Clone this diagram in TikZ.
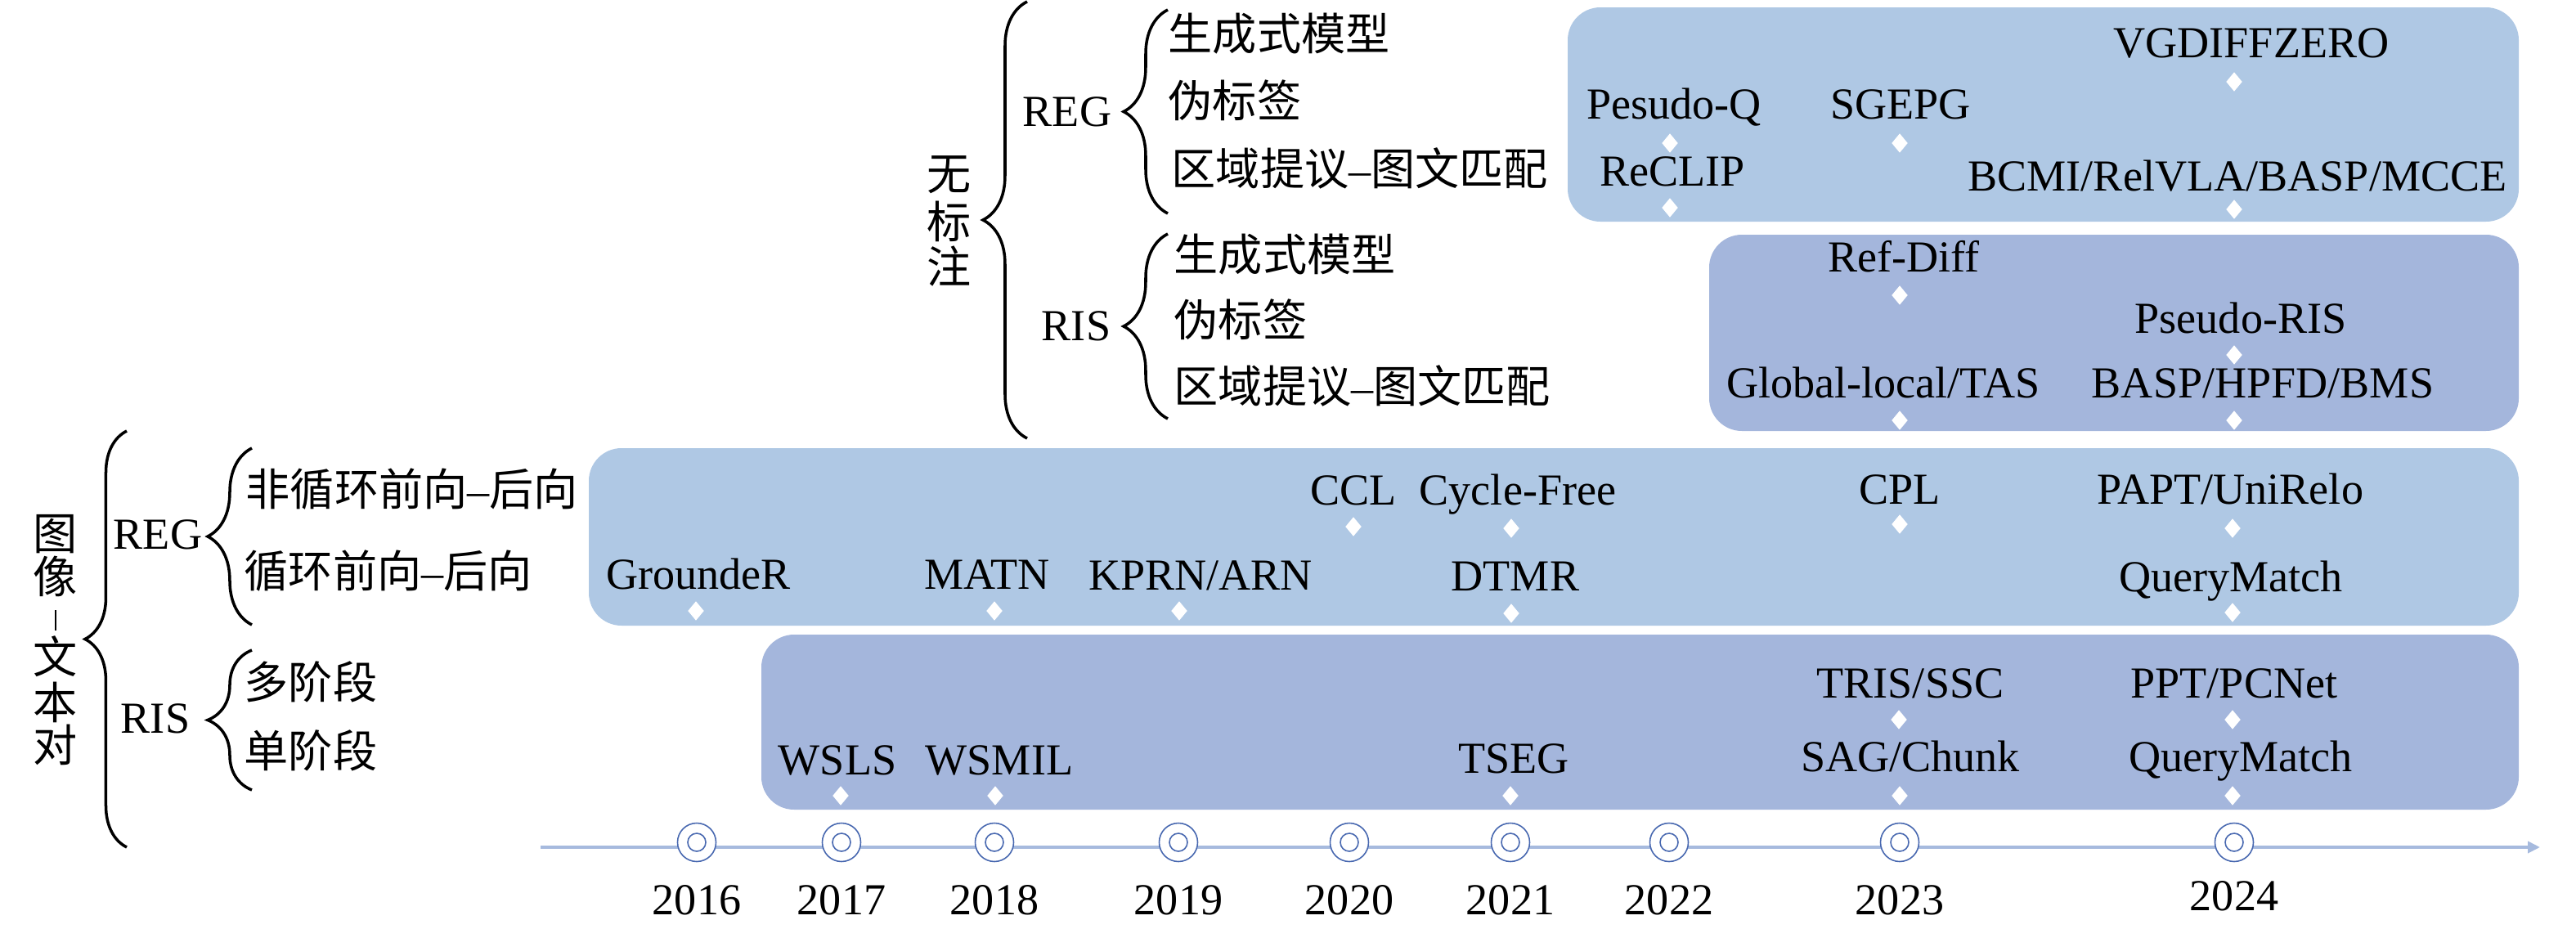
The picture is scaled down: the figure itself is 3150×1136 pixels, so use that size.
\documentclass[tikz,border=0pt]{standalone}
\usepackage{fontspec}
\setmainfont{Liberation Serif}
\newfontfamily\cjk{Noto Sans CJK SC}
\usetikzlibrary{shapes.geometric,decorations.pathreplacing,arrows.meta}
\definecolor{regbox}{RGB}{175,200,228}
\definecolor{risbox}{RGB}{164,182,220}
\definecolor{tline}{RGB}{166,186,222}
\definecolor{ring}{RGB}{72,104,176}
\begin{document}
\begin{tikzpicture}[x=0.01cm,y=-0.01cm,
  every node/.style={inner sep=0pt, font=\fontsize{15.4}{18}\selectfont},
  lbl/.style={anchor=base},
  cn/.style={anchor=base west, font=\fontsize{15.4}{18}\selectfont\cjk},
  vc/.style={anchor=center, font=\fontsize{15.4}{18}\selectfont\cjk},
  dm/.style={diamond, fill=white, draw=none, minimum width=0.2cm, minimum height=0.24cm},
  boxA/.style={fill=regbox, rounded corners=0.4cm},
  boxB/.style={fill=risbox, rounded corners=0.4cm},
  brc/.style={decorate, decoration={brace, amplitude=#1}, line width=1pt},
  ringo/.style={circle, draw=ring, line width=0.45pt, fill=white, minimum size=0.47cm},
  ringi/.style={circle, draw=ring, line width=0.45pt, minimum size=0.22cm},
]
\useasboundingbox (0,0) rectangle (3150,1136);

% ---------- boxes ----------
\path[boxA] (1917,9) rectangle (3080,271);
\path[boxB] (2090,287) rectangle (3080,527);
\path[boxA] (720,548) rectangle (3080,765);
\path[boxB] (931,776) rectangle (3080,990);

% ---------- timeline ----------
\coordinate (tstart) at (661,1036);
\coordinate (tend) at (3106,1036);
\draw[tline, line width=0.04cm, -{Triangle[length=0.15cm,width=0.14cm]}] (tstart) -- (tend);
\foreach \yr/\xx/\bl in {2016/852/1118, 2017/1029/1118, 2018/1216/1118, 2019/1441/1118, 2020/1650/1118, 2021/1847/1118, 2022/2041/1118, 2023/2323/1118, 2024/2732/1113}{
  \node[ringo] (o\yr) at (\xx,1030) {};
  \node[ringi] (i\yr) at (\xx,1030) {};
  \node[lbl] (y\yr) at (\xx,\bl) {\yr};
}

% ---------- left hierarchy: image-text pairs ----------
\node[vc] (a1) at (68,653) {图};
\node[vc] (a2) at (68,705) {像};
\node (a3) at (68,758) {\rule{0.02cm}{0.25cm}};
\node[vc] (a4) at (68,803) {文};
\node[vc] (a5) at (68,859) {本};
\node[vc] (a6) at (68,911) {对};
\draw[brc=0.51cm] (155,1036) -- (155,527);

\node[lbl] (regL) at (193,671) {REG};
\node[lbl] (risL) at (190,896) {RIS};
\draw[brc=0.54cm] (308,764) -- (308,548);
\draw[brc=0.54cm] (308,966) -- (308,795);

\node[cn] (n1) at (300,618) {非循环前向{\rmfamily –}后向};
\node[cn] (n2) at (298,718) {循环前向{\rmfamily –}后向};
\node[cn] (n3) at (298,854) {多阶段};
\node[cn] (n4) at (298,938) {单阶段};

% ---------- upper hierarchy: unlabeled ----------
\node[vc] (w1) at (1161,214) {无};
\node[vc] (w2) at (1161,271) {标};
\node[vc] (w3) at (1161,326) {注};
\draw[brc=0.54cm] (1256,536) -- (1256,2);

\node[lbl] (regU) at (1305,154) {REG};
\node[lbl] (risU) at (1316,416) {RIS};
\draw[brc=0.54cm] (1428,261) -- (1428,12);
\draw[brc=0.54cm] (1428,512) -- (1428,286);

\node[cn] (u1) at (1428,61) {生成式模型};
\node[cn] (u2) at (1428,143) {伪标签};
\node[cn] (u3) at (1432,226) {区域提议{\rmfamily –}图文匹配};
\node[cn] (u4) at (1435,331) {生成式模型};
\node[cn] (u5) at (1435,411) {伪标签};
\node[cn] (u6) at (1435,492) {区域提议{\rmfamily –}图文匹配};

% ---------- box 1: unlabeled REG ----------
\node[lbl] (m1) at (2753,70) {VGDIFFZERO};
\node[lbl] (m2) at (2047,145) {Pesudo-Q};
\node[lbl] (m3) at (2324,145) {SGEPG};
\node[lbl] (m4) at (2045,227) {ReCLIP};
\node[lbl] (m5) at (2736,233) {BCMI/RelVLA/BASP/MCCE};
\node[dm] (d1) at (2732,100) {};
\node[dm] (d2) at (2042,175) {};
\node[dm] (d3) at (2323,175) {};
\node[dm] (d4) at (2042,254) {};
\node[dm] (d5) at (2732,256) {};

% ---------- box 2: unlabeled RIS ----------
\node[lbl] (m6) at (2328,332) {Ref-Diff};
\node[lbl] (m7) at (2740,407) {Pseudo-RIS};
\node[lbl] (m8) at (2303,486) {Global-local/TAS};
\node[lbl] (m9) at (2767,486) {BASP/HPFD/BMS};
\node[dm] (d6) at (2323,361) {};
\node[dm] (d7) at (2732,434) {};
\node[dm] (d8) at (2323,514) {};
\node[dm] (d9) at (2732,514) {};

% ---------- box 3: REG ----------
\node[lbl] (r1) at (1655,617) {CCL};
\node[lbl] (r2) at (1856,617) {Cycle-Free};
\node[lbl] (r3) at (2323,616) {CPL};
\node[lbl] (r4) at (2727,616) {PAPT/UniRelo};
\node[lbl] (r5) at (854,720) {GroundeR};
\node[lbl] (r6) at (1207,720) {MATN};
\node[lbl] (r7) at (1468,721) {KPRN/ARN};
\node[lbl] (r8) at (1853,722) {DTMR};
\node[lbl] (r9) at (2728,723) {QueryMatch};
\node[dm] (e1) at (1655,644) {};
\node[dm] (e2) at (1848,646) {};
\node[dm] (e3) at (2323,641) {};
\node[dm] (e4) at (2730,646) {};
\node[dm] (e5) at (851,747) {};
\node[dm] (e6) at (1216,747) {};
\node[dm] (e7) at (1442,747) {};
\node[dm] (e8) at (1848,750) {};
\node[dm] (e9) at (2730,749) {};

% ---------- box 4: RIS ----------
\node[lbl] (s1) at (2336,853) {TRIS/SSC};
\node[lbl] (s2) at (2732,853) {PPT/PCNet};
\node[lbl] (s3) at (1024,947) {WSLS};
\node[lbl] (s4) at (1222,947) {WSMIL};
\node[lbl] (s5) at (1851,945) {TSEG};
\node[lbl] (s6) at (2336,943) {SAG/Chunk};
\node[lbl] (s7) at (2740,943) {QueryMatch};
\node[dm] (f1) at (2322,880) {};
\node[dm] (f2) at (2730,880) {};
\node[dm] (f3) at (1028,973) {};
\node[dm] (f4) at (1217,973) {};
\node[dm] (f5) at (1847,973) {};
\node[dm] (f6) at (2323,973) {};
\node[dm] (f7) at (2730,973) {};
\end{tikzpicture}
\end{document}
